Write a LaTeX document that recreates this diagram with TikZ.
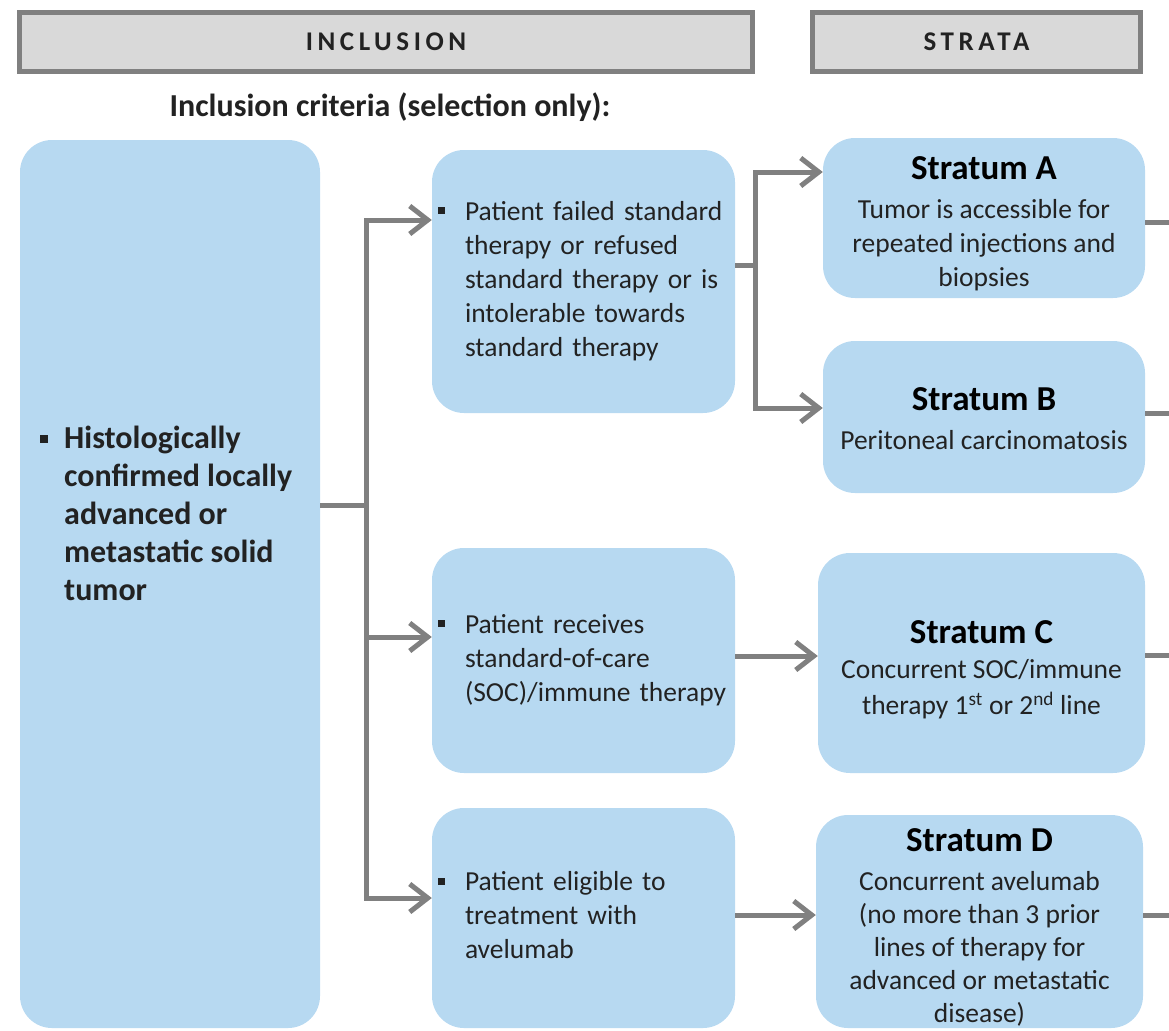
\documentclass[tikz,border=0pt]{standalone}
\usepackage{fontspec}
\setmainfont{Carlito}
\usetikzlibrary{arrows.meta}

\definecolor{boxblue}{HTML}{B7D9F1}
\definecolor{linegrey}{HTML}{808080}
\definecolor{headgrey}{HTML}{D9D9D9}
\definecolor{ink}{HTML}{222222}

% small square bullet
\newcommand\sqbul[2]{\raisebox{#2}{\rule{#1}{#1}}}
% lower a block of text without changing its reserved size
\newcommand\lowered[2]{\raisebox{-#1}[\height][\depth]{#2}}

\tikzset{
  header/.style={fill=headgrey, draw=linegrey, line width=5pt, inner sep=0pt,
    text=ink, font=\fontsize{27}{30}\selectfont\bfseries\addfontfeature{LetterSpace=17}},
  bluebox/.style={fill=boxblue, rounded corners=32pt, inner sep=0pt, text=ink},
  critbox/.style={bluebox, inner xsep=6pt, text width=291pt, align=left,
    font=\fontsize{27.5}{34}\selectfont},
  stratbox/.style={bluebox, align=center, font=\fontsize{27.5}{34}\selectfont},
  conn/.style={draw=linegrey, line width=5pt},
  arr/.style={conn, -{Straight Barb[length=18pt,width=28pt]}},
  twoarr/.style={conn, {Straight Barb[length=18pt,width=28pt]}-{Straight Barb[length=18pt,width=28pt]}},
}

\newcommand\stitle[1]{{\fontsize{35}{36}\selectfont\bfseries\color{black}#1}}

\begin{document}
\begin{tikzpicture}[x=1pt,y=-1pt]
\useasboundingbox (0,0) rectangle (1169,1030);

% column headers
\node[header, minimum width=733pt, minimum height=59pt] (hinc) at (386,42) {INCLUSION};
\node[header, minimum width=328pt, minimum height=59pt] (hstr) at (976.5,42) {STRATA};
\node[font=\fontsize{32}{36}\selectfont\bfseries, text=ink] (crit) at (390,107)
  {Inclusion criteria (selection only):};

% main inclusion criterion
\node[bluebox, minimum width=300pt, minimum height=888pt] (big) at (170,584) {};
\node[anchor=north west, inner sep=0pt, text=ink, align=left,
      font=\fontsize{32}{38}\selectfont\bfseries] (bigtxt) at (40,422)
  {\begin{tabular}{@{}p{24pt}@{}l@{}}
   \sqbul{8pt}{6pt} & Histologically\\
   & confirmed locally\\
   & advanced or\\
   & metastatic solid\\
   & tumor
   \end{tabular}};

% selection branches
\node[critbox, minimum width=303pt, minimum height=263pt] (c1) at (583.5,281.5)
  {\begin{tabular}{@{}p{27pt}@{}l@{}}
   \sqbul{7pt}{6pt} & Patient failed standard\\
   & therapy or refused\\
   & standard therapy or is\\
   & intolerable towards\\
   & standard therapy
   \end{tabular}};
\node[critbox, minimum width=303pt, minimum height=225pt] (c2) at (583.5,660.5)
  {\begin{tabular}{@{}p{27pt}@{}l@{}}
   \sqbul{7pt}{6pt} & Patient receives\\
   & standard-of-care\\
   & (SOC)/immune therapy
   \end{tabular}};
\node[critbox, minimum width=303pt, minimum height=220pt] (c3) at (583.5,918)
  {\begin{tabular}{@{}p{27pt}@{}l@{}}
   \sqbul{7pt}{6pt} & Patient eligible to\\
   & treatment with\\
   & avelumab
   \end{tabular}};

% strata
\node[stratbox, minimum width=322pt, minimum height=160pt] (sa) at (984,218)
  {\lowered{8pt}{\begin{tabular}{@{}c@{}}
   \stitle{Stratum A}\\[5pt]
   Tumor is accessible for\\ repeated injections and\\ biopsies\end{tabular}}};
\node[stratbox, minimum width=322pt, minimum height=152pt] (sb) at (984,417)
  {\lowered{6pt}{\begin{tabular}{@{}c@{}}
   \stitle{Stratum B}\\[5pt]
   Peritoneal carcinomatosis\end{tabular}}};
\node[stratbox, minimum width=327pt, minimum height=220pt] (sc) at (981.5,663)
  {\lowered{9pt}{\begin{tabular}{@{}c@{}}
   \stitle{Stratum C}\\[1pt]
   Concurrent SOC/immune\\[2pt]
   therapy 1\textsuperscript{st} or 2\textsuperscript{nd} line\end{tabular}}};
\node[stratbox, minimum width=327pt, minimum height=213pt] (sd) at (979.5,921.5)
  {\lowered{9pt}{\fontsize{27.5}{33}\selectfont\begin{tabular}{@{}c@{}}
   \stitle{Stratum D}\\[6pt]
   Concurrent avelumab\\ (no more than 3 prior\\ lines of therapy for\\
   advanced or metastatic\\ disease)\end{tabular}}};

% branching from the main criterion
\coordinate (j0) at (366,505);
\coordinate (t1) at (366,220);
\coordinate (t2) at (366,637);
\coordinate (t3) at (366,898);
\draw[conn] (big.east |- j0) -- (j0);
\draw[twoarr] (c1.west |- t1) -- (t1) -- (t3) -- (c3.west |- t3);
\draw[arr] (t2) -- (c2.west |- t2);

% branching into strata A and B
\coordinate (k0) at (755,265);
\coordinate (k1) at (755,172);
\coordinate (k2) at (755,408);
\draw[conn] (c1.east |- k0) -- (k0);
\draw[twoarr] (sa.west |- k1) -- (k1) -- (k2) -- (sb.west |- k2);

% direct links to strata C and D
\coordinate (m2) at (735,656);
\coordinate (m3) at (735,915);
\draw[arr] (c2.east |- m2) -- (sc.west |- m2);
\draw[arr] (c3.east |- m3) -- (sd.west |- m3);

% lines leaving the strata to the right
\coordinate (ea) at (1169,222);
\coordinate (eb) at (1169,413);
\coordinate (ec) at (1169,655);
\coordinate (ed) at (1169,915);
\draw[conn] (sa.east |- ea) -- (ea);
\draw[conn] (sb.east |- eb) -- (eb);
\draw[conn] (sc.east |- ec) -- (ec);
\draw[conn] (sd.east |- ed) -- (ed);
\end{tikzpicture}
\end{document}
